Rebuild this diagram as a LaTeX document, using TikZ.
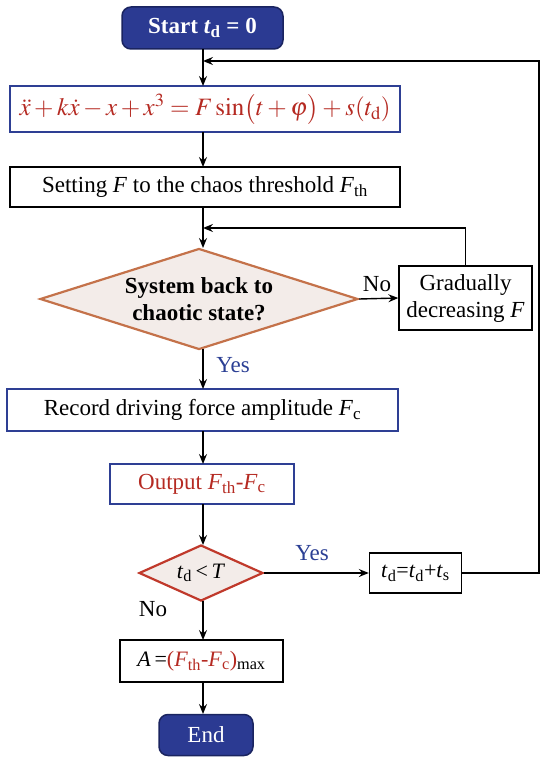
\documentclass[tikz,border=0pt]{standalone}
\usepackage{mathptmx}
\usepackage[no-math]{fontspec}
\setmainfont{Liberation Serif}
\usetikzlibrary{shapes.geometric,arrows.meta}
\definecolor{navy}{HTML}{2B3A92}
\definecolor{navyb}{HTML}{1A2460}
\definecolor{bbord}{HTML}{2E3F94}
\definecolor{redt}{HTML}{B52A22}
\definecolor{diaob}{HTML}{C4724A}
\definecolor{diafill}{HTML}{F3ECE9}
\definecolor{diarb}{HTML}{C0392B}
\definecolor{yesblue}{HTML}{2B3F94}
\newcommand{\sbs}[1]{\textsubscript{#1}}
\begin{document}
\begin{tikzpicture}[x=1pt,y=-1pt,
  every node/.style={font=\fontsize{23}{26}\selectfont},
  term/.style={draw=navyb, fill=navy, text=white, rounded corners=9pt, line width=1.5pt, inner sep=0pt},
  bluebox/.style={draw=bbord, line width=2pt, inner sep=0pt},
  blackbox/.style={draw=black, line width=1.4pt, inner sep=0pt},
  decide/.style={diamond, fill=diafill, line width=2.2pt, inner sep=0pt},
  arr/.style={-{Stealth[length=10pt,width=8pt,inset=3.5pt]}, line width=1.4pt},
  conn/.style={line width=1.4pt},
  lbl/.style={inner sep=0pt}
]
\useasboundingbox (0,0) rectangle (550,765);

\node[term, minimum width=161pt, minimum height=42pt, font=\bfseries\fontsize{23}{26}\selectfont] (start) at (202.5,28) {Start \textit{t}\sbs{d} = 0};

\node[bluebox, minimum width=390pt, minimum height=46pt, text=redt, font=\fontsize{25}{28}\selectfont] (eq) at (205,109)
  {$\ddot{x}+k\dot{x}-x+x^{3}=F\sin\bigl(t+\varphi\bigr)+s(t_{\mathrm{d}})$};

\node[blackbox, minimum width=390pt, minimum height=40pt] (set) at (205,187) {Setting \textit{F} to the chaos threshold \textit{F}\sbs{th}};

\node[decide, draw=diaob, minimum width=318pt, minimum height=101pt, aspect=3.2, align=center, font=\bfseries\fontsize{23}{27}\selectfont] (d1) at (199,299) {System back to\\chaotic state?};

\node[blackbox, minimum width=133pt, minimum height=64pt, align=center, font=\fontsize{23}{27}\selectfont] (grad) at (465.5,298) {Gradually\\decreasing \textit{F}};

\node[bluebox, minimum width=391pt, minimum height=42pt] (rec) at (202.5,410) {Record driving force amplitude \textit{F}\sbs{c}};

\node[bluebox, minimum width=184pt, minimum height=40pt, text=redt] (out) at (202,484) {Output \textit{F}\sbs{th}-\textit{F}\sbs{c}};

\node[decide, draw=diarb, minimum width=124pt, minimum height=56pt, aspect=2.2, font=\fontsize{22}{26}\selectfont] (d2) at (201,573) {\textit{t}\sbs{d}\,<\,\textit{T}};

\node[blackbox, minimum width=92pt, minimum height=40pt, font=\fontsize{22}{26}\selectfont] (inc) at (415.5,573) {\textit{t}\sbs{d}=\textit{t}\sbs{d}+\textit{t}\sbs{s}};

\node[blackbox, minimum width=163pt, minimum height=42pt, font=\fontsize{22}{26}\selectfont] (amax) at (201.5,661) {\textit{A}\,=\textcolor{redt}{(\textit{F}\sbs{th}-\textit{F}\sbs{c})}\sbs{max}};

\node[term, minimum width=94pt, minimum height=41pt] (end) at (206,735) {End};

% labels
\node[lbl] (no1) at (377,284) {No};
\node[lbl, text=yesblue] (yes1) at (233,365) {Yes};
\node[lbl, text=yesblue] (yes2) at (312,553) {Yes};
\node[lbl] (no2) at (153,609) {No};

% helper coordinates
\coordinate (rt) at (539,61);
\coordinate (mt) at (203,61);
\coordinate (gl) at (203,228);

% connectors
\draw[arr] (203,49) -- (203,86);
\draw[arr] (203,132) -- (203,167);
\draw[arr] (203,207) -- (203,248);
\draw[arr] (d1.east) -- (grad.west);
\draw[arr] (grad.north) |- (gl);
\draw[arr] (203,349) -- (203,389);
\draw[arr] (203,431) -- (203,464);
\draw[arr] (203,504) -- (203,545);
\draw[arr] (d2.east) -- (inc.west);
\draw[arr] (inc.east) -| (rt) -- (mt);
\draw[arr] (203,601) -- (203,640);
\draw[arr] (203,682) -- (203,714);
\end{tikzpicture}
\end{document}
